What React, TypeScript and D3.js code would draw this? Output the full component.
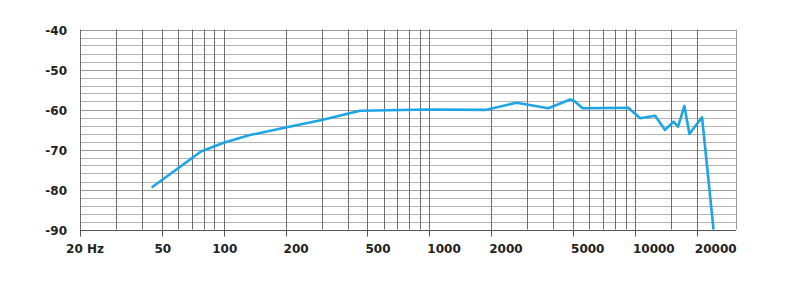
import React from "react";
import * as d3 from "d3";

const freqs = [44.6, 60, 77.5, 100, 134, 200, 300, 460, 1000, 1870, 2660, 3790, 4850, 5100, 5570, 9280, 10600, 12540, 14000, 15400, 16200, 17400, 18400, 21200, 24100];
const levels = [-79.5, -74.7, -70.5, -68.3, -66.4, -64.5, -62.6, -60.3, -60.0, -60.1, -58.3, -59.7, -57.5, -58.0, -59.7, -59.55, -62.2, -61.55, -65.1, -63.05, -64.3, -59.1, -66.1, -61.95, -90];

const xGridValues = [20, 30, 40, 50, 60, 70, 80, 90, 100, 200, 300, 400, 500, 600, 700, 800, 900, 1000, 2000, 3000, 4000, 5000, 6000, 7000, 8000, 9000, 10000, 15000, 20000];
const xTickValues = [20, 50, 100, 200, 500, 1000, 2000, 5000, 10000, 20000];
const xTickLabels = ["20 Hz", "50", "100", "200", "500", "1000", "2000", "5000", "10000", "20000"];
const yTickValues = [-40, -50, -60, -70, -80, -90];
const yGridValues = d3.range(-90, -39, 2);

const W = 792;
const H = 302;
const left = 80;
const right = 736;
const top = 29.5;
const bottom = 229.5;

export default function App() {
  const x = d3.scaleLog().domain([20, 31000]).range([left, right]);
  const y = d3.scaleLinear().domain([-90, -40]).range([bottom, top]);
  const line = d3
    .line<number>()
    .x((_, i) => x(freqs[i]))
    .y((d) => y(d));
  const font = "'DejaVu Sans', sans-serif";
  return (
    <svg
      width={W}
      height={H}
      style={{ position: "absolute", left: 0, top: 0, background: "#fff" }}
    >
      {yGridValues.map((v) => (
        <line
          key={"h" + v}
          x1={left}
          x2={right}
          y1={Math.round(y(v)) + 0.5}
          y2={Math.round(y(v)) + 0.5}
          stroke={v % 10 === 0 ? "#9a9a9a" : "#b4b4b4"}
          strokeWidth={1}
        />
      ))}
      {xGridValues.map((v) => (
        <line
          key={"v" + v}
          x1={Math.round(x(v)) + 0.5}
          x2={Math.round(x(v)) + 0.5}
          y1={top}
          y2={bottom}
          stroke="#6e6e6e"
          strokeWidth={1}
        />
      ))}
      <line x1={right + 0.5} x2={right + 0.5} y1={top} y2={bottom} stroke="#9a9a9a" />
      <line x1={left} x2={right} y1={Math.round(bottom) + 0.5} y2={Math.round(bottom) + 0.5} stroke="#555" />
      {xTickValues.map((v) => (
        <line
          key={"t" + v}
          x1={Math.round(x(v)) + 0.5}
          x2={Math.round(x(v)) + 0.5}
          y1={bottom}
          y2={bottom + 7}
          stroke="#555"
        />
      ))}
      <path d={line(levels) || ""} fill="none" stroke="#1ea5e3" strokeWidth={2.6} strokeLinejoin="round" />
      {yTickValues.map((v) => (
        <text
          key={"yl" + v}
          x={left - 13}
          y={y(v) + 1.5}
          textAnchor="end"
          dominantBaseline="middle"
          fontFamily={font}
          fontWeight="bold"
          fontSize={12}
          fill="#222"
        >
          {v}
        </text>
      ))}
      {xTickValues.map((v, i) => {
        const px = x(v);
        const small = v <= 100;
        return (
          <text
            key={"xl" + v}
            x={v === 20 ? px + 5 : small ? px + 1 : px - 2}
            y={253}
            textAnchor={small ? "middle" : "start"}
            fontFamily={font}
            fontWeight="bold"
            fontSize={12}
            fill="#222"
          >
            {xTickLabels[i]}
          </text>
        );
      })}
    </svg>
  );
}
